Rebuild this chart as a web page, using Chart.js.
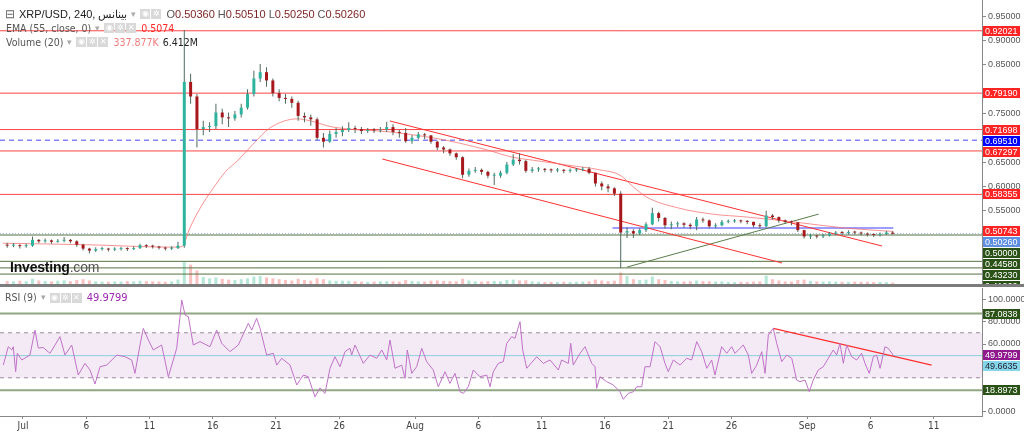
<!DOCTYPE html>
<html>
<head>
<meta charset="utf-8">
<script src="https://cdn.jsdelivr.net/npm/chart.js@4/dist/chart.umd.min.js"></script>
<style>
html, body { margin:0; padding:0; background:#fff; }
#wrap { position:relative; width:1024px; height:432px; overflow:hidden; font-family:"Liberation Sans", Arial, sans-serif; }
canvas { position:absolute; left:0; }
#c1 { top:0; }
#c2 { top:287px; }
.sep { position:absolute; left:0; top:284px; width:1024px; height:3px; background:#7c7c7c; }
.row { position:absolute; left:5px; display:flex; align-items:center; white-space:nowrap; line-height:1; }
.row > * { margin-right:4px; }
.nm { font-family:"Liberation Sans Narrow", "DejaVu Sans Condensed", sans-serif; font-size:10.5px; color:#555; }
.dd { font-size:9px; color:#aaa; }
.ic { display:inline-block; width:10px; height:10px; background:#d9d9d9; color:#fff; font-size:8px; line-height:10px; text-align:center; margin-right:1px !important; }
.gap { margin-right:5px !important; }
.wm { position:absolute; left:10px; top:259px; font-size:14px; color:#111; font-weight:bold; letter-spacing:-0.2px; }
.wm span { font-weight:normal; color:#555; }
</style>
</head>
<body>
<div id="wrap">
  <canvas id="c1" width="1024" height="284"></canvas>
  <div class="sep"></div>
  <canvas id="c2" width="1024" height="145"></canvas>

  <!-- legend, main pane -->
  <div class="row" style="top:8px">
    <span style="font-size:12px;color:#666">⊟</span>
    <span style="font-size:11px;color:#222">XRP/USD, 240, بينانس</span>
    <span class="dd">▾</span>
    <span class="ic">◉</span><span class="ic gap">✲</span>
    <span style="font-size:11px;color:#555">O<span style="color:#7a1f1f">0.50360</span> H<span style="color:#7a1f1f">0.50510</span> L<span style="color:#7a1f1f">0.50250</span> C<span style="color:#7a1f1f">0.50260</span></span>
  </div>
  <div class="row" style="top:23px;left:6px">
    <span class="nm">EMA (55, close, 0)</span>
    <span class="dd">▾</span>
    <span class="ic">◉</span><span class="ic">✲</span><span class="ic gap">✕</span>
    <span class="nm" style="color:#ff2a2a">0.5074</span>
  </div>
  <div class="row" style="top:37px;left:6px">
    <span class="nm">Volume (20)</span>
    <span class="dd">▾</span>
    <span class="ic">◉</span><span class="ic">✲</span><span class="ic gap">✕</span>
    <span class="nm" style="color:#f07a7a">337.877K</span>
    <span class="nm" style="color:#222">6.412M</span>
  </div>

  <div class="wm">Investing<span>.com</span></div>

  <!-- legend, RSI pane -->
  <div class="row" style="top:292px">
    <span class="nm">RSI (9)</span>
    <span class="dd">▾</span>
    <span class="ic">◉</span><span class="ic">✲</span><span class="ic gap">✕</span>
    <span class="nm" style="color:#9c27b0;font-size:11px">49.9799</span>
  </div>
</div>

<script>
// day 0 = 1 Jul, 12h candles, first candle centred on 29 Jun 18:00
const candleStart = -1.25;
const candleStep  = 0.5;
const open0       = 0.480;

const closes = [
  .478,.479,.477,.478,.490,.487,.489,.486,.488,.490,
  .487,.480,.472,.468,.471,.472,.470,.471,.472,.471,
  .473,.479,.477,.476,.474,.472,.473,.478,.815,.785,
  .718,.722,.724,.752,.742,.740,.748,.762,.790,.822,
  .835,.818,.792,.782,.780,.772,.745,.742,.738,.700,
  .692,.708,.712,.716,.720,.718,.714,.716,.715,.717,
  .722,.712,.710,.693,.700,.707,.705,.692,.680,.676,
  .668,.660,.624,.632,.634,.630,.622,.622,.628,.645,
  .655,.652,.632,.635,.636,.634,.633,.634,.632,.633,
  .634,.636,.628,.606,.600,.596,.585,.505,.508,.503,
  .510,.522,.545,.535,.520,.522,.524,.521,.518,.532,
  .530,.518,.520,.527,.528,.529,.528,.527,.520,.518,
  .540,.537,.530,.527,.526,.510,.497,.498,.497,.499,
  .503,.505,.504,.506,.505,.503,.501,.500,.502,.505,
  .5026
];
const highs = [
  .484,.483,.481,.482,.497,.492,.493,.491,.492,.496,
  .492,.489,.482,.474,.475,.476,.474,.475,.476,.475,
  .477,.482,.481,.480,.478,.476,.477,.486,.922,.832,
  .790,.735,.732,.770,.760,.752,.755,.770,.800,.838,
  .852,.845,.822,.800,.790,.785,.776,.752,.748,.742,
  .710,.715,.720,.724,.732,.725,.722,.720,.720,.722,
  .733,.728,.716,.720,.706,.712,.710,.706,.694,.683,
  .678,.670,.662,.637,.640,.637,.632,.628,.632,.650,
  .666,.668,.655,.640,.640,.638,.637,.638,.636,.637,
  .638,.640,.640,.628,.610,.605,.598,.590,.516,.512,
  .514,.526,.556,.548,.537,.528,.528,.526,.524,.537,
  .536,.532,.524,.531,.532,.533,.532,.531,.528,.524,
  .550,.543,.538,.532,.530,.526,.511,.502,.500,.502,
  .506,.508,.508,.510,.509,.507,.505,.503,.505,.508,
  .5075
];
const lows = [
  .474,.475,.472,.474,.476,.483,.484,.482,.484,.485,
  .483,.476,.468,.462,.465,.468,.466,.467,.468,.467,
  .469,.471,.473,.472,.470,.468,.469,.471,.474,.770,
  .680,.705,.712,.718,.728,.722,.735,.742,.758,.785,
  .815,.805,.785,.775,.770,.762,.735,.732,.725,.695,
  .680,.690,.700,.703,.712,.710,.708,.710,.710,.711,
  .712,.705,.700,.690,.688,.697,.697,.688,.675,.668,
  .663,.655,.617,.620,.628,.624,.617,.603,.618,.625,
  .642,.645,.628,.628,.630,.629,.628,.629,.627,.628,
  .630,.631,.625,.600,.592,.588,.580,.432,.494,.494,
  .500,.506,.520,.528,.513,.512,.516,.515,.512,.510,
  .525,.514,.514,.518,.524,.525,.524,.522,.515,.513,
  .516,.532,.525,.523,.520,.506,.493,.492,.493,.494,
  .497,.500,.500,.501,.501,.499,.497,.496,.497,.500,
  .5010
];
const volumes = [
  14,12,15,13,24,16,14,12,15,17,
  13,18,22,16,12,11,10,12,11,13,
  12,15,13,12,11,10,12,20,100,88,
  62,32,26,30,24,20,18,22,26,34,
  36,30,26,22,18,16,24,18,15,26,
  22,16,14,15,14,12,11,10,11,12,
  13,12,11,18,14,12,11,15,16,14,
  13,12,24,16,12,11,13,14,12,18,
  20,16,17,12,10,9,10,9,10,9,
  10,11,12,20,16,13,15,52,36,22,
  18,20,34,22,18,14,12,11,12,16,
  13,12,11,12,10,9,10,9,11,12,
  38,22,16,12,11,18,20,14,12,11,
  12,11,10,10,11,10,10,9,10,9,
  6
];

// EMA(55)
const emaDays = [-1.6,5,11.86,12.57,13.2,14,15,16,17,18.3,19.5,21.7,22.7,24.5,29,32.4,34.5,36.7,38.7,40.3,43,45.6,47.2,48.2,49.3,51.9,54.5,57.2,60.9,65.1,68.8];
const emaVals = [.483,.480,.475,.476,.515,.555,.595,.630,.654,.690,.720,.739,.735,.722,.712,.700,.689,.675,.660,.654,.644,.634,.623,.600,.578,.555,.543,.537,.527,.514,.5074];

// horizontal levels
const redLevels   = [0.92021, 0.79190, 0.71698, 0.67297, 0.58355];
const blueLevel   = 0.69510;
const greenLevels = [0.50000, 0.44580, 0.43230, 0.41960];
const lastPrice   = 0.50260;
const emaLast     = 0.50743;

// drawn trend lines [day, price]
const upperTrend   = [[29.0, 0.7346], [67.9, 0.4774]];
const lowerTrend   = [[28.4, 0.6564], [60.0, 0.4424]];
const supportTrend = [[47.75, 0.434], [62.9, 0.543]];
const rangeTop     = [[46.6, 0.5144], [68.8, 0.5144]];

// RSI(9)
const rsiDays = [
  -1.56,-1.16,-0.89,-0.77,-0.58,-0.45,-0.10,0.55,0.95,1.21,1.60,2.13,2.53,2.92,3.32,3.85,4.37,4.90,5.30,5.69,
  6.09,6.62,7.41,8.06,8.59,8.85,9.25,9.51,9.91,10.30,10.96,11.49,11.88,12.15,12.55,12.81,13.07,13.46,13.99,14.78,
  15.31,15.71,16.36,17.02,17.81,18.08,18.47,18.74,19.26,19.79,20.06,20.45,21.11,21.64,22.16,22.55,23.08,23.48,23.87,24.27,
  24.66,25.06,25.45,25.85,25.98,26.25,26.90,27.43,27.96,28.36,28.75,29.01,29.41,29.94,30.20,30.38,30.73,31.12,31.52,31.91,
  32.43,32.83,33.36,33.75,34.15,34.55,34.81,35.20,35.60,36.13,36.66,36.92,37.18,37.57,37.97,38.24,38.63,38.89,39.29,39.50,
  39.82,40.61,41.13,41.66,42.32,42.58,43.11,43.30,43.50,44.03,44.43,44.96,45.22,45.35,45.61,46.14,46.66,47.19,47.45,47.85,
  48.25,48.51,48.91,49.17,49.57,49.96,50.36,50.75,51.01,51.41,51.94,52.47,52.86,53.26,53.65,54.05,54.44,54.70,55.23,55.63,
  56.02,56.28,56.94,57.34,57.60,58.00,58.40,58.66,58.92,59.31,59.58,59.98,60.37,60.77,61.16,61.42,61.82,62.16,62.47,62.87,
  63.26,63.66,64.05,64.32,64.58,64.85,65.11,65.51,65.90,66.30,66.56,66.90,67.22,67.48,67.75,68.14,68.40,68.80
];
const rsiVals = [
  41.3,57.6,54.7,57.6,35.4,51.7,45.8,50.2,72.4,56.4,56.9,51.7,59.1,66.5,50.2,59.1,32.4,42.8,36.9,24.4,
  39.8,41.3,50.2,48.7,45.8,33.9,59.1,73.9,63.6,54.7,59.1,30.9,45.8,56.2,99.1,85.8,84.3,59.1,62.1,57.6,
  72.4,60.6,53.2,59.1,78.4,72.4,82.8,73.9,50.2,51.7,41.3,47.3,41.3,23.6,32.4,30.9,13.1,21.0,16.1,38.4,
  48.7,39.8,53.2,56.2,50.2,59.1,42.8,50.2,47.3,54.7,45.8,63.6,38.4,41.3,29.5,54.7,33.9,39.8,56.2,44.3,
  36.9,22.0,35.4,25.0,33.9,17.6,16.1,22.0,36.9,30.9,32.4,22.0,35.4,42.8,44.3,60.6,66.5,65.0,79.8,54.7,
  38.4,48.7,42.8,45.8,36.9,45.8,42.8,60.6,41.3,51.7,57.6,42.8,39.8,20.6,30.9,26.5,23.6,17.6,10.8,16.1,
  17.6,22.0,22.0,39.8,39.8,62.1,57.6,42.8,35.4,45.8,41.3,47.3,45.8,62.1,53.2,38.4,45.8,32.4,57.6,51.7,
  57.6,51.7,59.1,50.2,33.9,41.3,53.2,33.9,68.0,73.9,60.6,44.3,50.2,47.3,28.0,26.5,28.0,17.6,28.0,36.9,
  39.8,47.3,54.7,50.2,60.6,42.8,59.1,48.7,45.8,51.7,42.8,33.9,48.7,50.2,38.4,57.6,56.2,49.98
];
const rsiLast     = 49.9799;
const rsiUpper    = 87.0838;
const rsiLower    = 18.8973;
const rsiMid      = 49.6635;
const rsiBand     = [30, 70];
const rsiTrend    = [[59.31, 73.9], [71.83, 41.3]];

// axes
const tickDays   = [0, 5, 10, 15, 20, 25, 31, 36, 41, 46, 51, 56, 62, 67, 72];
const tickLabels = ['Jul', '6', '11', '16', '21', '26', 'Aug', '6', '11', '16', '21', '26', 'Sep', '6', '11'];
const priceTicks = [0.55, 0.60, 0.65, 0.75, 0.85, 0.90, 0.95];
const rsiTicks   = [0, 60, 80, 100];

const X_MIN = -1.818, X_MAX = 75.81;
const UP = '#2db39e', DOWN = '#a8171c', WICK = '#4f6a5b';
const RED = '#ff2424', GREEN = '#2b5216';

Chart.defaults.font.family = '"Liberation Sans", Arial, sans-serif';

const times = closes.map((c, i) => candleStart + i * candleStep);
const opens = closes.map((c, i) => i === 0 ? open0 : closes[i - 1]);
const isUp  = closes.map((c, i) => c >= opens[i]);

function hline(v, color, width, dash, x0, x1) {
    return {
        type: 'line',
        data: [{x: x0 === undefined ? X_MIN : x0, y: v}, {x: x1 === undefined ? X_MAX : x1, y: v}],
        borderColor: color, borderWidth: width, borderDash: dash || [],
        pointRadius: 0, order: 6
    };
}
function seg(pts, color, width) {
    return {
        type: 'line',
        data: pts.map(p => ({x: p[0], y: p[1]})),
        borderColor: color, borderWidth: width, pointRadius: 0, order: 4
    };
}

//右側の値ラベル（重なったら下へずらす）
function tagPlugin(tags, axisId, digits) {
    return {
        id: 'tags',
        afterDraw(chart) {
            const ctx = chart.ctx;
            const sc  = chart.scales[axisId];
            const x0  = chart.chartArea.right + 1;
            let list = tags.map(t => Object.assign({y: sc.getPixelForValue(t.v)}, t)).sort((a, b) => a.y - b.y);
            let prev = -1e9;
            ctx.save();
            ctx.font = '9px "Liberation Sans", Arial';
            ctx.textBaseline = 'middle';
            list.forEach(t => {
                let y = Math.max(t.y, prev + 11);
                prev = y;
                ctx.fillStyle = t.bg;
                ctx.fillRect(x0, Math.round(y - 5), 37, 10);
                ctx.fillStyle = t.fg || '#fff';
                ctx.fillText(t.v.toFixed(digits), x0 + 2, Math.round(y) + 0.5);
            });
            ctx.restore();
        }
    };
}

function fixRight(s) { s.width = 42; s.paddingTop = 0; s.paddingBottom = 0; }

const priceTags = redLevels.map(v => ({v: v, bg: RED}))
    .concat([{v: blueLevel, bg: '#0000ff'}, {v: emaLast, bg: RED}, {v: lastPrice, bg: '#5f8fe0'}])
    .concat(greenLevels.map(v => ({v: v, bg: GREEN})));

let mainSets = [
    {
        type: 'bar', order: 1, grouped: false, barThickness: 3, minBarLength: 1, inflateAmount: 0,
        data: times.map((t, i) => ({x: t, y: [Math.min(opens[i], closes[i]), Math.max(opens[i], closes[i])]})),
        backgroundColor: isUp.map(u => u ? UP : DOWN), borderWidth: 0
    },
    {
        type: 'bar', order: 2, grouped: false, barThickness: 1, inflateAmount: 0,
        data: times.map((t, i) => ({x: t, y: [lows[i], highs[i]]})),
        backgroundColor: WICK, borderWidth: 0
    },
    {
        type: 'bar', order: 9, grouped: false, barThickness: 3, inflateAmount: 0, yAxisID: 'yv',
        data: times.map((t, i) => ({x: t, y: volumes[i]})),
        backgroundColor: isUp.map(u => u ? 'rgba(70,195,160,0.4)' : 'rgba(240,100,100,0.4)'), borderWidth: 0
    },
    {
        type: 'line', order: 3,
        data: emaDays.map((d, i) => ({x: d, y: emaVals[i]})),
        borderColor: 'rgba(245,110,110,0.75)', borderWidth: 1, pointRadius: 0, cubicInterpolationMode: 'monotone'
    },
    seg(upperTrend, '#ff3030', 1),
    seg(lowerTrend, '#ff3030', 1),
    seg(supportTrend, '#5b7c4b', 1),
    seg(rangeTop, '#3a3aff', 1),
    hline(blueLevel, '#4848ff', 1, [5, 4]),
    hline(lastPrice, '#86a6de', 1, [1, 2])
];
redLevels.forEach(v => mainSets.push(hline(v, '#ff4545', 1)));
greenLevels.forEach(v => mainSets.push(hline(v, '#56703f', 1)));

new Chart(document.getElementById('c1'), {
    type: 'bar',
    data: { datasets: mainSets },
    options: {
        responsive: false, animation: false, events: [],
        layout: { padding: 0 },
        plugins: { legend: { display: false }, tooltip: { enabled: false } },
        scales: {
            x: { type: 'linear', display: false, min: X_MIN, max: X_MAX, offset: false },
            y: {
                type: 'linear', position: 'right', min: 0.39918, max: 0.98354, bounds: 'data',
                afterBuildTicks: s => { s.ticks = priceTicks.map(v => ({value: v})); },
                afterFit: fixRight,
                ticks: { callback: v => v.toFixed(5), font: { size: 9 }, color: '#555', padding: 2 },
                grid: { drawOnChartArea: false, tickLength: 4, color: '#888' },
                border: { color: '#888' }
            },
            yv: { type: 'linear', display: false, min: 0, max: 1291 }
        }
    },
    plugins: [tagPlugin(priceTags, 'y', 5)]
});

// RSI pane
const bandPlugin = {
    id: 'band',
    beforeDatasetsDraw(chart) {
        const ctx = chart.ctx, a = chart.chartArea, y = chart.scales.y;
        const y1 = y.getPixelForValue(rsiBand[1]), y0 = y.getPixelForValue(rsiBand[0]);
        ctx.save();
        ctx.fillStyle = 'rgba(200,150,210,0.2)';
        ctx.fillRect(a.left, y1, a.right - a.left, y0 - y1);
        ctx.restore();
    }
};

const rsiTags = [
    {v: rsiUpper, bg: GREEN},
    {v: rsiLast, bg: '#8e1a8e'},
    {v: rsiMid, bg: '#86d6ea', fg: '#223'},
    {v: rsiLower, bg: GREEN}
];

new Chart(document.getElementById('c2'), {
    type: 'line',
    data: {
        datasets: [
            {
                data: rsiDays.map((d, i) => ({x: d, y: rsiVals[i]})),
                borderColor: '#bf72c6', borderWidth: 1, pointRadius: 0, order: 1
            },
            seg(rsiTrend, '#ff3030', 1.2),
            hline(rsiUpper, '#8fa882', 2),
            hline(rsiLower, '#8fa882', 2),
            hline(rsiMid, '#8ad0e0', 1),
            hline(rsiBand[1], '#9d8a9d', 1, [4, 4]),
            hline(rsiBand[0], '#9d8a9d', 1, [4, 4])
        ]
    },
    options: {
        responsive: false, animation: false, events: [],
        layout: { padding: { top: 1, left: 0, right: 0, bottom: 0 } },
        plugins: { legend: { display: false }, tooltip: { enabled: false } },
        scales: {
            x: {
                type: 'linear', min: X_MIN, max: X_MAX, bounds: 'data', offset: false,
                afterBuildTicks: s => { s.ticks = tickDays.map(v => ({value: v})); },
                afterFit: s => { s.height = 16; s.paddingLeft = 0; s.paddingRight = 0; },
                ticks: {
                    callback: (v, i) => tickLabels[i], autoSkip: false, maxRotation: 0, padding: 1,
                    font: { size: 10, family: '"Liberation Sans Narrow", "DejaVu Sans Condensed", sans-serif' }, color: '#444'
                },
                grid: { drawOnChartArea: false, tickLength: 3, color: '#888' },
                border: { color: '#888' }
            },
            y: {
                type: 'linear', position: 'right', min: -4, max: 109.8, bounds: 'data',
                afterBuildTicks: s => { s.ticks = rsiTicks.map(v => ({value: v})); },
                afterFit: fixRight,
                ticks: { callback: v => v.toFixed(4), font: { size: 9 }, color: '#555', padding: 2 },
                grid: { drawOnChartArea: false, tickLength: 4, color: '#888' },
                border: { color: '#888' }
            }
        }
    },
    plugins: [bandPlugin, tagPlugin(rsiTags, 'y', 4)]
});
</script>
</body>
</html>
